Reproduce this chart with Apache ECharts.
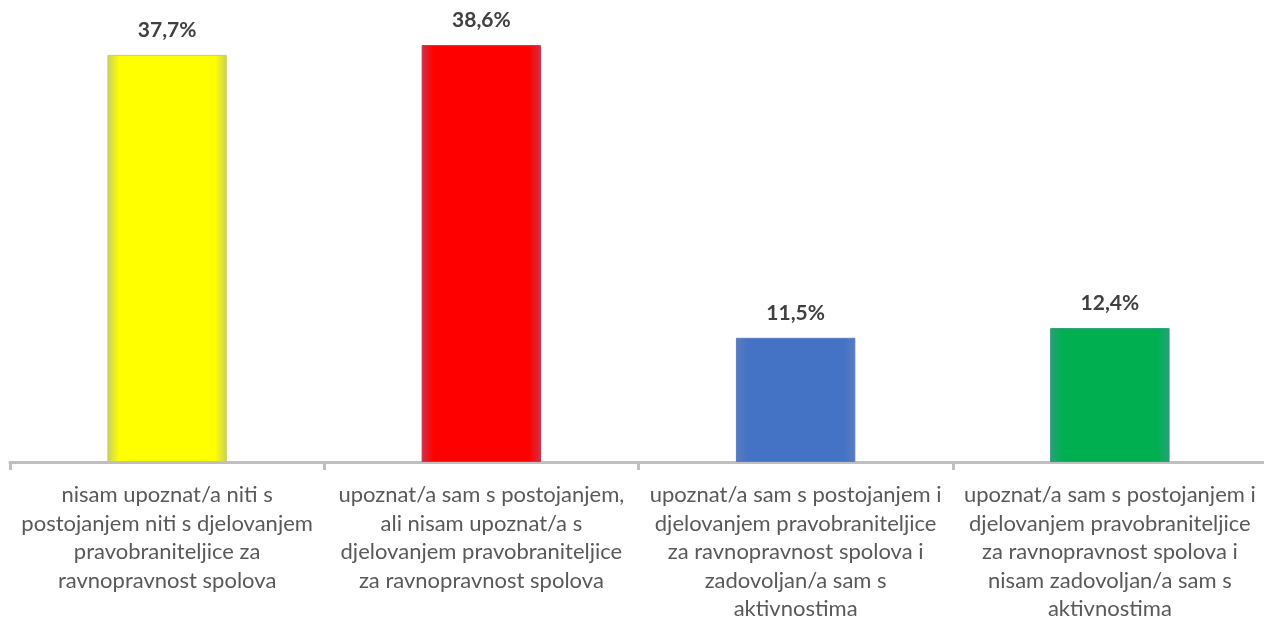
<!DOCTYPE html>
<html>
<head>
<meta charset="utf-8">
<script src="https://cdn.jsdelivr.net/npm/echarts@6/dist/echarts.min.js"></script>
<style>
  html, body { margin: 0; padding: 0; background: #fff; }
  #chart { width: 1264px; height: 620px; }
</style>
</head>
<body>
<div id="chart"></div>
<script>
const categories = [
  'nisam upoznat/a niti s\npostojanjem niti s djelovanjem\npravobraniteljice za\nravnopravnost spolova',
  'upoznat/a sam s postojanjem,\nali nisam upoznat/a s\ndjelovanjem pravobraniteljice\nza ravnopravnost spolova',
  'upoznat/a sam s postojanjem i\ndjelovanjem pravobraniteljice\nza ravnopravnost spolova i\nzadovoljan/a sam s\naktivnostima',
  'upoznat/a sam s postojanjem i\ndjelovanjem pravobraniteljice\nza ravnopravnost spolova i\nnisam zadovoljan/a sam s\naktivnostima'
]
const values = [37.7, 38.6, 11.5, 12.4]
const barColors = ['#ffff00', '#ff0000', '#4472c4', '#00b050']
const edgeColors = ['#c8d060', '#d03048', '#5a7cc0', '#28a078']

// soft edges, roughly like the inner glow of the original bars
function glow(c, e) {
  return new echarts.graphic.LinearGradient(0, 0, 1, 0, [
    { offset: 0, color: e },
    { offset: 0.1, color: c },
    { offset: 0.9, color: c },
    { offset: 1, color: e }
  ])
}

const chart = echarts.init(document.getElementById('chart'))

chart.setOption({
  animation: false,
  grid: { left: 10, right: -3, top: 30, bottom: 158, outerBoundsMode: 'none', containLabel: false },
  xAxis: {
    type: 'category',
    data: categories,
    axisLine: { lineStyle: { color: '#bfbfbf', width: 3 } },
    axisTick: { show: true, length: 8, lineStyle: { color: '#bfbfbf', width: 3 } },
    axisLabel: {
      interval: 0,
      margin: 19,
      color: '#595959',
      fontFamily: 'Lato',
      fontSize: 22,
      lineHeight: 28.5
    }
  },
  yAxis: {
    type: 'value',
    min: 0,
    max: 40,
    show: false,
    splitLine: { show: false }
  },
  series: [{
    type: 'bar',
    barWidth: '38%',
    data: values.map((v, i) => ({
      value: v,
      itemStyle: {
        color: glow(barColors[i], edgeColors[i]),
        borderColor: edgeColors[i],
        borderWidth: 1
      }
    })),
    label: {
      show: true,
      position: 'top',
      distance: 14,
      color: '#404040',
      fontFamily: 'Lato',
      fontWeight: 'bold',
      fontSize: 21,
      formatter: p => p.value.toFixed(1).replace('.', ',') + '%'
    }
  }]
})
</script>
</body>
</html>
